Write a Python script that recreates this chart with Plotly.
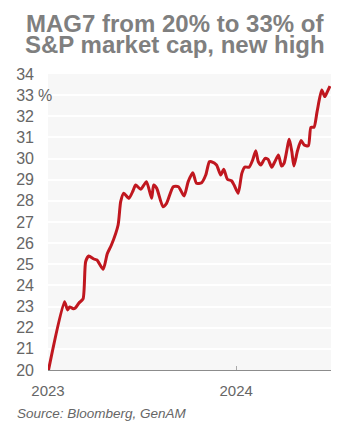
import plotly.graph_objects as go

dates = [
    "2023-01-02", "2023-02-02", "2023-02-08", "2023-02-12", "2023-02-19", "2023-02-23",
    "2023-03-02", "2023-03-10", "2023-03-15", "2023-03-21", "2023-03-31", "2023-04-06",
    "2023-04-18", "2023-04-26", "2023-05-04", "2023-05-17", "2023-05-22", "2023-05-28",
    "2023-06-07", "2023-06-15", "2023-06-20", "2023-06-30", "2023-07-11", "2023-07-21",
    "2023-07-25", "2023-07-31", "2023-08-12", "2023-08-19", "2023-09-01", "2023-09-11",
    "2023-09-22", "2023-09-30", "2023-10-09", "2023-10-16", "2023-10-26", "2023-11-03",
    "2023-11-10", "2023-11-14", "2023-11-24", "2023-12-02", "2023-12-08", "2023-12-15",
    "2023-12-23", "2023-12-28", "2024-01-05", "2024-01-12", "2024-01-18", "2024-01-26",
    "2024-02-02", "2024-02-08", "2024-02-13", "2024-02-18", "2024-02-26", "2024-03-03",
    "2024-03-10", "2024-03-16", "2024-03-23", "2024-03-29", "2024-04-03", "2024-04-13",
    "2024-04-18", "2024-04-22", "2024-04-29", "2024-05-06", "2024-05-12", "2024-05-20",
    "2024-05-25", "2024-05-31", "2024-06-06", "2024-06-15", "2024-06-21", "2024-06-26",
    "2024-07-01",
]
share = [
    20.0, 23.23, 22.84, 22.98, 22.90, 22.93,
    23.17, 23.36, 25.12, 25.39, 25.25, 25.20,
    24.76, 25.50, 25.91, 26.86, 27.96, 28.36,
    28.12, 28.48, 28.75, 28.55, 28.91, 28.12,
    28.75, 28.59, 27.72, 27.88, 28.67, 28.67,
    28.23, 28.91, 29.33, 28.83, 28.86, 29.22,
    29.85, 29.85, 29.70, 29.22, 29.49, 29.02,
    28.95, 28.75, 28.36, 29.30, 29.60, 29.59,
    29.93, 30.37, 29.85, 29.70, 30.01, 29.96,
    29.59, 29.85, 30.17, 29.65, 29.78, 30.91,
    30.33, 29.65, 30.37, 30.85, 30.64, 30.60,
    31.48, 31.48, 32.22, 33.24, 32.93, 33.17,
    33.43,
]
y_ticks = list(range(20, 35))
x_tickvals = ["2023-01-01", "2024-01-01"]
x_ticktext = ["2023", "2024"]

title_lines = ["<b>MAG7 from 20% to 33% of</b>", "<b>S&P market cap, new high</b>"]
source_text = "<i>Source: Bloomberg, GenAM</i>"

FONT = "Liberation Sans, Arial, sans-serif"

fig = go.Figure()
fig.add_trace(go.Scatter(
    x=dates, y=share, mode="lines",
    line=dict(color="#C0171F", width=3, shape="spline", smoothing=0.6),
    hoverinfo="skip", showlegend=False,
))

fig.update_layout(
    width=345, height=421,
    margin=dict(l=48, r=14, t=74, b=51),
    paper_bgcolor="white",
    plot_bgcolor="#f7f7f7",
    font=dict(family=FONT, color="#666666", size=15),
    xaxis=dict(
        type="date", range=["2023-01-01", "2024-07-03"],
        tickvals=x_tickvals, ticktext=x_ticktext,
        showgrid=False, zeroline=False,
        showline=True, linecolor="#8c8c8c", linewidth=1.2,
        ticks="inside", ticklen=4, tickcolor="#aaaaaa",
        tickfont=dict(size=15, color="#666666"),
        ticklabelstandoff=7,
    ),
    yaxis=dict(
        range=[20, 34], tickvals=y_ticks,
        showgrid=True, gridcolor="white", gridwidth=1.5,
        zeroline=False, showline=False, ticks="",
        tickfont=dict(size=16, color="#666666"),
        ticklabelstandoff=13,
    ),
    annotations=[
        dict(text=title_lines[0], xref="paper", yref="paper", x=0.4488, y=1.1706,
             xanchor="center", yanchor="middle", showarrow=False,
             font=dict(family=FONT, size=24, color="#7f7f7f")),
        dict(text=title_lines[1], xref="paper", yref="paper", x=0.4488, y=1.098,
             xanchor="center", yanchor="middle", showarrow=False,
             font=dict(family=FONT, size=24, color="#7f7f7f")),
        dict(text="%", xref="paper", yref="y", x=-0.0424, y=33,
             xanchor="left", yanchor="middle", showarrow=False,
             font=dict(size=16, color="#666666")),
        dict(text=source_text, xref="paper", yref="paper",
             x=-0.1166, y=-0.1486, xanchor="left", yanchor="middle",
             showarrow=False, font=dict(size=13.5, color="#666666")),
    ],
)

fig.write_html("out.html")
